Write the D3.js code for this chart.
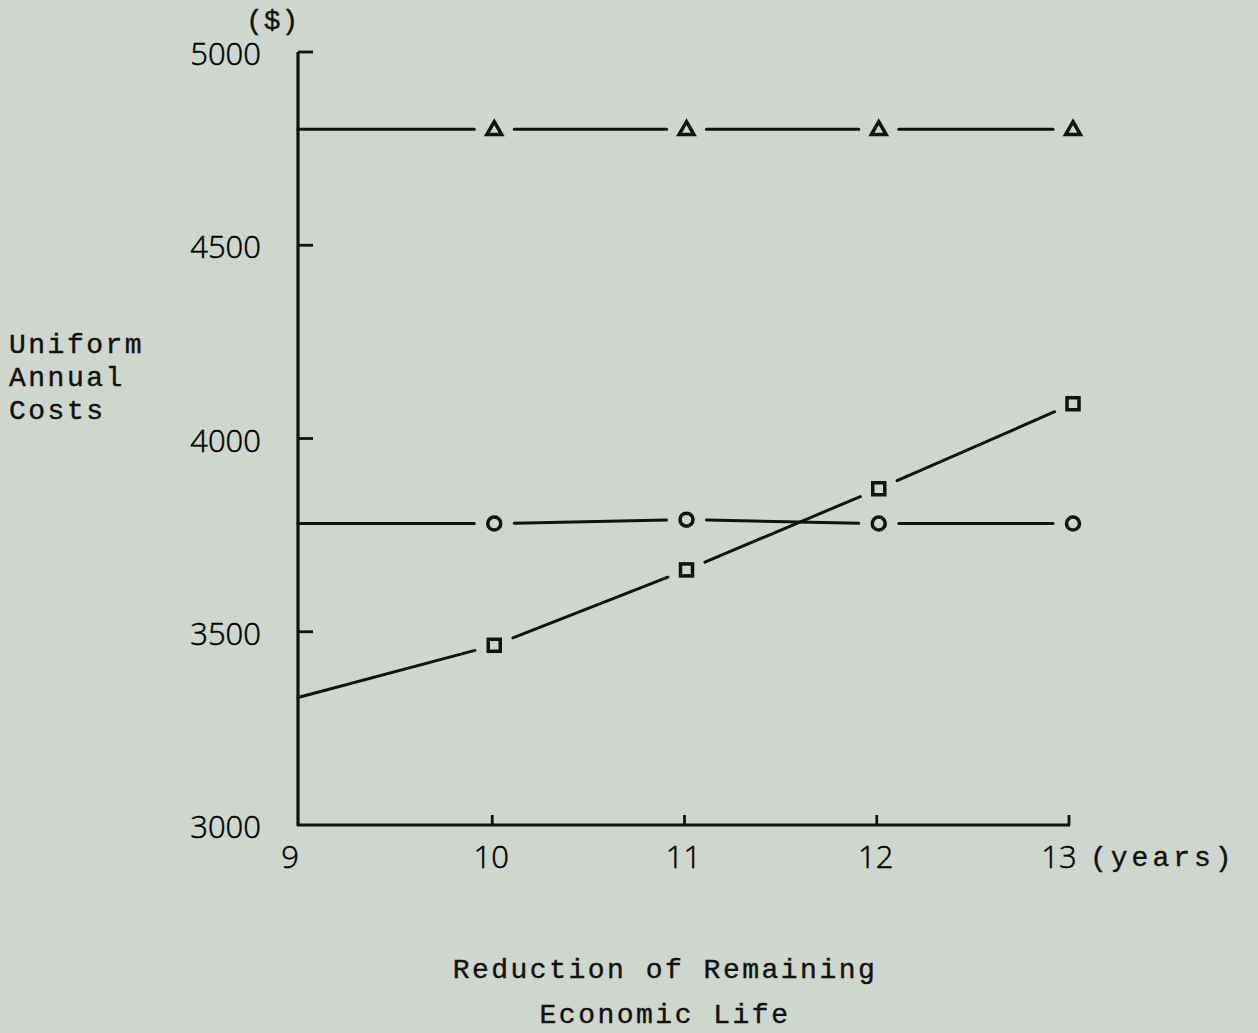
<!DOCTYPE html>
<html><head><meta charset="utf-8">
<script src="https://cdn.jsdelivr.net/npm/d3@7"></script>
<style>
html,body{margin:0;padding:0;background:#cfd6cd;}
svg{display:block;}
</style></head>
<body>
<svg id="c" width="1258" height="1033"></svg>
<script>
const years = [9, 10, 11, 12, 13];
const triangleSeries = [4800, 4800, 4800, 4800, 4800];
const circleSeries = [3780, 3780, 3790, 3780, 3780];
const squareSeries = [3330, 3465, 3660, 3870, 4090];
const markerStart = 1; // markers drawn from year 10 onward
const yTicks = [3000, 3500, 4000, 4500, 5000];
const xTicks = [9, 10, 11, 12, 13];

const svg = d3.select("#c");
const x = d3.scaleLinear().domain([9, 13]).range([300, 1069]);
const y = d3.scaleLinear().domain([3000, 5000]).range([825, 52]);
const ink = "#111";
const sans = "'Open Sans', sans-serif";
const mono = "'Liberation Mono', monospace";

// axes
const g = svg.append("g");
g.append("line").attr("x1", 298).attr("x2", 298).attr("y1", y(5000)).attr("y2", y(3000) + 1)
  .attr("stroke", ink).attr("stroke-width", 3.2);
g.append("line").attr("x1", 297).attr("x2", x(13) + 1).attr("y1", y(3000)).attr("y2", y(3000))
  .attr("stroke", ink).attr("stroke-width", 2.8);
yTicks.filter(v => v > 3000).forEach(v => {
  g.append("line").attr("x1", 298).attr("x2", 313).attr("y1", y(v)).attr("y2", y(v))
    .attr("stroke", ink).attr("stroke-width", 2.8);
});
yTicks.forEach(v => {
  g.append("text").attr("x", 261).attr("y", y(v) + 2).attr("dy", "0.36em")
    .attr("text-anchor", "end").attr("font-family", sans).attr("font-weight", 300)
    .attr("font-size", 31).attr("fill", "#000").attr("stroke", "#000").attr("stroke-width", 0.5)
    .text(v);
});
xTicks.filter(v => v > 9).forEach(v => {
  g.append("line").attr("x1", x(v)).attr("x2", x(v)).attr("y1", y(3000)).attr("y2", y(3000) - 10)
    .attr("stroke", ink).attr("stroke-width", 2.8);
});
xTicks.forEach(v => {
  g.append("text").attr("x", v === 9 ? x(v) - 10 : (v === 13 ? x(v) - 10 : x(v) - 1)).attr("y", 868)
    .attr("text-anchor", "middle").attr("font-family", sans).attr("font-weight", 300)
    .attr("font-size", 31).attr("fill", "#000").attr("stroke", "#000").attr("stroke-width", 0.5)
    .text(v);
});
const monoText = sel => sel.attr("font-family", mono).attr("font-size", 28)
  .attr("fill", ink).attr("stroke", ink).attr("stroke-width", 0.4);
monoText(g.append("text").attr("x", 1090).attr("y", 866).attr("letter-spacing", 4)).text("(years)");
monoText(g.append("text").attr("x", 246).attr("y", 29).attr("letter-spacing", 1)).text("($)");

// y label
["Uniform", "Annual", "Costs"].forEach((t, i) => {
  monoText(g.append("text").attr("x", 9).attr("y", 353 + i * 33).attr("letter-spacing", 2.5)).text(t);
});
["Reduction of Remaining", "Economic Life"].forEach((t, i) => {
  monoText(g.append("text").attr("x", 665).attr("y", 978 + i * 45).attr("text-anchor", "middle")
    .attr("letter-spacing", 2.5)).text(t);
});

const dx = 2; // markers sit slightly right of the ticks
const px = yr => x(yr) + (yr === 9 ? 0 : (yr === 13 ? 4 : dx));

// series lines with gaps around markers
function drawSeries(vals, gap) {
  for (let i = 0; i < vals.length - 1; i++) {
    const x0 = i === 0 ? 298 : px(years[i]), y0 = y(vals[i]);
    const x1 = px(years[i + 1]), y1 = y(vals[i + 1]);
    const len = Math.hypot(x1 - x0, y1 - y0);
    const ux = (x1 - x0) / len, uy = (y1 - y0) / len;
    const s = i === 0 ? 0 : gap;
    svg.append("line")
      .attr("x1", x0 + ux * s).attr("y1", y0 + uy * s)
      .attr("x2", x1 - ux * gap).attr("y2", y1 - uy * gap)
      .attr("stroke", ink).attr("stroke-width", 3).attr("stroke-linecap", "round");
  }
}
drawSeries(triangleSeries, 20);
drawSeries(circleSeries, 20);
drawSeries(squareSeries, 20);

const mk = svg.append("g").attr("fill", "none").attr("stroke", ink).attr("stroke-width", 3.5);
years.forEach((yr, i) => {
  if (i < markerStart) return;
  const cx = px(yr);
  mk.append("path").attr("d", d3.symbol(d3.symbolTriangle, 95)())
    .attr("transform", `translate(${cx},${y(triangleSeries[i]) + 1})`);
  mk.append("circle").attr("cx", cx).attr("cy", y(circleSeries[i])).attr("r", 6.5);
  mk.append("rect").attr("x", cx - 6).attr("y", y(squareSeries[i]) - 6)
    .attr("width", 12).attr("height", 12);
});
</script>
</body></html>
